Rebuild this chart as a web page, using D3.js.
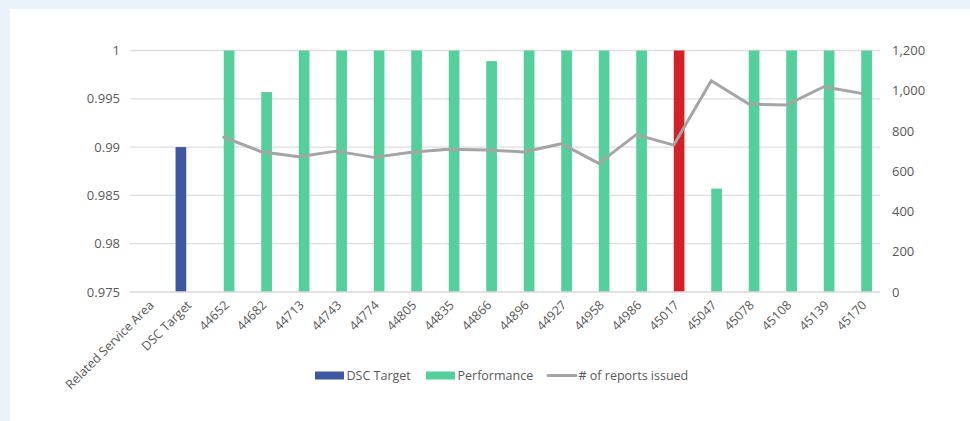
<!DOCTYPE html>
<html>
<head>
<meta charset="utf-8">
<script src="https://cdn.jsdelivr.net/npm/d3@7"></script>
<style>
  html, body { margin: 0; padding: 0; background: #EBF3FA; }
  svg { display: block; }
  text { font-family: "Open Sans", sans-serif; fill: #595959; }
</style>
</head>
<body>
<svg id="chart" width="970" height="421"></svg>
<script>
// Categories along the x axis
const categories = ["Related Service Area", "DSC Target", "44652", "44682", "44713", "44743",
  "44774", "44805", "44835", "44866", "44896", "44927", "44958", "44986", "45017",
  "45047", "45078", "45108", "45139", "45170"];

// DSC Target series (only the target category has a value)
const targetValues = [null, 0.99, null, null, null, null, null, null, null, null, null,
  null, null, null, null, null, null, null, null, null];

// Performance series
const performanceValues = [null, null, 1, 0.9957, 1, 1, 1, 1, 1, 0.9989, 1, 1, 1, 1, 1,
  0.9857, 1, 1, 1, 1];

// Number of reports issued (right axis)
const reportValues = [null, null, 769, 697, 672, 700, 669, 694, 709, 706, 696, 737, 639,
  782, 730, 1050, 934, 929, 1020, 987];

// Tick values
const leftTicks = [0.975, 0.98, 0.985, 0.99, 0.995, 1];
const rightTicks = [0, 200, 400, 600, 800, 1000, 1200];

const highlightCategory = "45017";

const colors = { target: "#3F56A2", performance: "#55D09D", highlight: "#D42027", line: "#A5A5A5", grid: "#DEDEDE" };

const svg = d3.select("#chart");

// White panel
svg.append("rect").attr("x", 10).attr("y", 9).attr("width", 960).attr("height", 412).attr("fill", "#FFFFFF");

const plot = { left: 130, right: 880, top: 50.5, bottom: 292 };

const x = d3.scaleBand().domain(categories).range([plot.left, plot.right]).paddingInner(0).paddingOuter(0);
const yL = d3.scaleLinear().domain([0.975, 1]).range([plot.bottom, plot.top]);
const yR = d3.scaleLinear().domain([0, 1200]).range([plot.bottom, plot.top]);

const barW = 10.7;
const slot = d3.scaleBand().domain(["target", "performance"]).range([-barW, barW]);

// Gridlines
svg.append("g").selectAll("line").data(leftTicks.filter(t => t !== 0.975)).join("line")
  .attr("x1", plot.left).attr("x2", plot.right)
  .attr("y1", d => yL(d)).attr("y2", d => yL(d))
  .attr("stroke", colors.grid).attr("stroke-width", 1.3);

// Left axis labels
const leftAxis = d3.axisLeft(yL).tickValues(leftTicks).tickSize(0).tickPadding(10)
  .tickFormat(d => d3.format("")(+d.toFixed(3)));
svg.append("g").attr("transform", `translate(${plot.left},0)`).call(leftAxis)
  .call(g => g.select(".domain").remove())
  .call(g => g.selectAll("text").attr("font-size", 13).attr("fill", "#595959")
    .style("font-family", "'Open Sans', sans-serif"));

// Right axis labels
const rightAxis = d3.axisRight(yR).tickValues(rightTicks).tickSize(0).tickPadding(12)
  .tickFormat(d3.format(","));
svg.append("g").attr("transform", `translate(${plot.right},0)`).call(rightAxis)
  .call(g => g.select(".domain").remove())
  .call(g => g.selectAll("text").attr("font-size", 13).attr("fill", "#595959")
    .style("font-family", "'Open Sans', sans-serif"));

// DSC Target bars
svg.append("g").selectAll("rect")
  .data(categories.map((c, i) => ({ c, v: targetValues[i] })).filter(d => d.v != null))
  .join("rect")
  .attr("x", d => x(d.c) + x.bandwidth() / 2 + slot("target"))
  .attr("width", slot.bandwidth())
  .attr("y", d => yL(d.v))
  .attr("height", d => yL(0.975) - yL(d.v))
  .attr("fill", colors.target);

// Performance bars
svg.append("g").selectAll("rect")
  .data(categories.map((c, i) => ({ c, v: performanceValues[i] })).filter(d => d.v != null))
  .join("rect")
  .attr("x", d => x(d.c) + x.bandwidth() / 2 + slot("performance"))
  .attr("width", slot.bandwidth())
  .attr("y", d => yL(d.v))
  .attr("height", d => yL(0.975) - yL(d.v))
  .attr("fill", d => d.c === highlightCategory ? colors.highlight : colors.performance);

// Bottom axis line
svg.append("line").attr("x1", plot.left).attr("x2", plot.right)
  .attr("y1", plot.bottom).attr("y2", plot.bottom)
  .attr("stroke", "#D9D9D9").attr("stroke-width", 1.3);

// Reports issued line
const lineData = categories.map((c, i) => ({ c, v: reportValues[i] })).filter(d => d.v != null);
svg.append("path").datum(lineData)
  .attr("fill", "none").attr("stroke", colors.line).attr("stroke-width", 3)
  .attr("stroke-linejoin", "round").attr("stroke-linecap", "round")
  .attr("d", d3.line().x(d => x(d.c) + x.bandwidth() / 2).y(d => yR(d.v)));

// Category labels, rotated
svg.append("g").selectAll("text").data(categories).join("text")
  .attr("transform", d => `translate(${x(d) + x.bandwidth() / 2 + 6},306) rotate(-45)`)
  .attr("text-anchor", "end")
  .attr("font-size", 12.5)
  .text(d => d);

// Legend
const legend = svg.append("g");
const legendItems = [
  { label: "DSC Target", type: "bar", color: colors.target, x: 315 },
  { label: "Performance", type: "bar", color: colors.performance, x: 426 },
  { label: "# of reports issued", type: "line", color: colors.line, x: 547 }
];
legendItems.forEach(item => {
  if (item.type === "bar") {
    legend.append("rect").attr("x", item.x).attr("y", 371.5).attr("width", 29).attr("height", 8).attr("fill", item.color);
  } else {
    legend.append("line").attr("x1", item.x + 1).attr("x2", item.x + 29).attr("y1", 375.5).attr("y2", 375.5)
      .attr("stroke", item.color).attr("stroke-width", 3).attr("stroke-linecap", "round");
  }
  legend.append("text").attr("x", item.x + 31.5).attr("y", 375.5).attr("dy", "0.35em")
    .attr("font-size", 12.5).text(item.label);
});
</script>
</body>
</html>
